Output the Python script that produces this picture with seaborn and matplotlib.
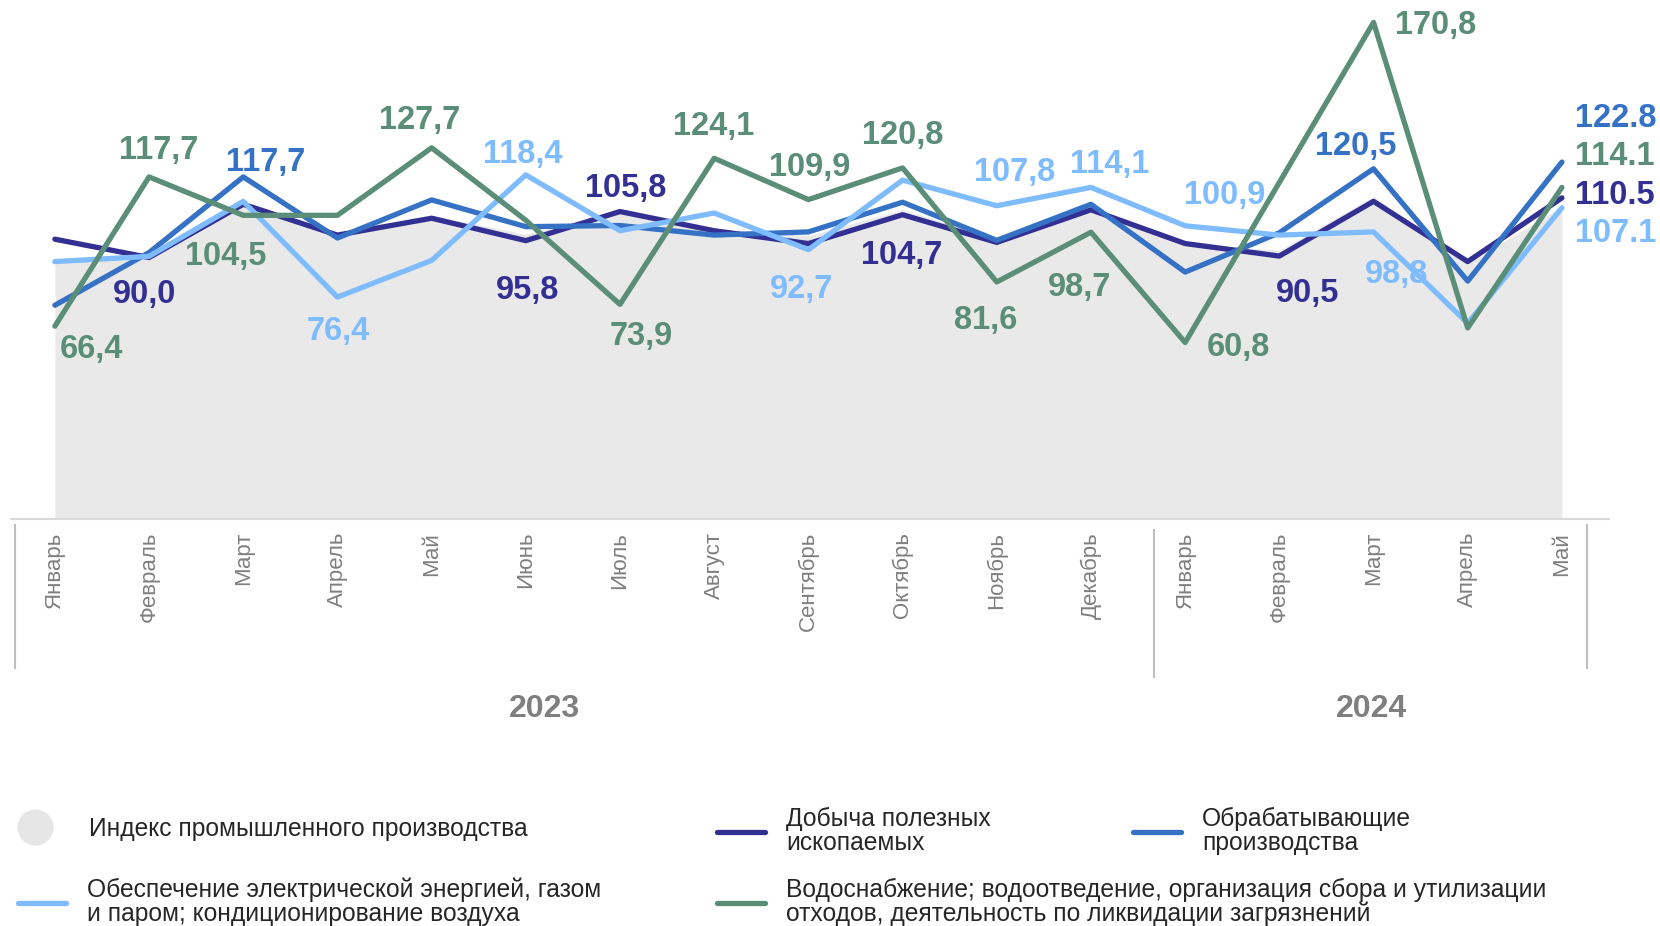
import matplotlib
matplotlib.use("Agg")
import matplotlib.pyplot as plt
import seaborn as sns
import pandas as pd
from matplotlib.lines import Line2D

# ---------------- data ----------------
months = ["Январь", "Февраль", "Март", "Апрель", "Май", "Июнь", "Июль", "Август",
          "Сентябрь", "Октябрь", "Ноябрь", "Декабрь",
          "Январь", "Февраль", "Март", "Апрель", "Май"]
years = ["2023", "2024"]

index_ipp = [88.3, 90.0, 109.0, 98.4, 104.5, 98.0, 106.0, 100.0, 97.5, 106.5,
             96.5, 107.5, 95.0, 92.5, 111.0, 88.0, 107.5]
mining = [96.3, 90.0, 108.3, 97.7, 103.5, 95.8, 105.8, 99.2, 94.8, 104.7,
          95.2, 106.4, 94.8, 90.5, 109.3, 88.6, 110.5]
manufacturing = [73.6, 91.7, 117.7, 96.7, 109.8, 100.6, 101.0, 97.7, 98.8, 109.0,
                 95.9, 108.3, 85.0, 98.5, 120.5, 81.9, 122.8]
energy = [88.6, 90.4, 109.3, 76.4, 89.0, 118.4, 99.2, 105.3, 92.7, 116.6,
          107.8, 114.1, 100.9, 97.7, 98.8, 67.4, 107.1]
water = [66.4, 117.7, 104.5, 104.5, 127.7, 102.8, 73.9, 124.1, 109.9, 120.8,
         81.6, 98.7, 60.8, 115.8, 170.8, 65.8, 114.1]

series_names = ["Добыча полезных\nископаемых",
                "Обрабатывающие\nпроизводства",
                "Обеспечение электрической энергией, газом\nи паром; кондиционирование воздуха",
                "Водоснабжение; водоотведение, организация сбора и утилизации\nотходов, деятельность по ликвидации загрязнений"]
index_name = "Индекс промышленного производства"

# ---------------- styles ----------------
colors = ["#332F93", "#3572C6", "#7EBCFF", "#5A8E78"]
fill_color = "#E9E9E9"

# label offsets in pixels (dx, dy, ha) for labelled points of each series
label_style = [
    {1: (-4, -34), 5: (2, -47), 6: (6, 26), 9: (-1, -38), 13: (28, -34), 16: (13, 5, "left")},
    {2: (22, 17), 14: (-18, 25), 16: (13, 47, "left")},
    {3: (1, -31), 5: (-3, 23), 8: (-7, -37), 10: (18, 36), 11: (19, 26), 12: (40, 33),
     14: (23, -40), 16: (13, -23, "left")},
    {0: (37, -20), 1: (10, 29), 2: (-18, -38), 4: (-12, 30), 6: (21, -29), 7: (-1, 35),
     8: (1, 35), 9: (0, 35), 10: (-11, -36), 11: (-11, -52), 12: (53, -2), 14: (62, 0),
     16: (13, 34, "left")},
]
label_shift = -3  # vertical correction for glyph centring

sns.set_theme(style="white")
plt.rcParams["font.family"] = ["Liberation Sans", "DejaVu Sans"]

fig = plt.figure(figsize=(16.6, 9.26), dpi=100)
W, H = 1660, 926
ax_left, ax_right = 10.6, 1609
ax = fig.add_axes([ax_left / W, 1 - 519.4 / H, (ax_right - ax_left) / W, 519.4 / H])

x = list(range(len(months)))
values = [mining, manufacturing, energy, water]
df = pd.DataFrame({
    "pos": x * 4,
    "value": sum(values, []),
    "series": sum([[n] * len(x) for n in series_names], []),
})

ax.fill_between(x, index_ipp, 0, color=fill_color, lw=0, zorder=1)
sns.lineplot(data=df, x="pos", y="value", hue="series", hue_order=series_names,
             palette=colors, lw=3.8, legend=False, ax=ax, zorder=3)

ax.set_xlim(-0.47, 16.5)
ax.set_ylim(0, 178.5)

# data labels
for vals, col, style in zip(values, colors, label_style):
    for i, st in style.items():
        v = vals[i]
        txt = f"{v:.1f}" if i == len(x) - 1 else f"{v:.1f}".replace(".", ",")
        ha = st[2] if len(st) > 2 else "center"
        ax.annotate(txt, (i, v), xytext=(st[0], st[1] + label_shift),
                    textcoords="offset pixels",
                    ha=ha, va="center", fontsize=23.5, fontweight="bold", color=col,
                    annotation_clip=False, zorder=5)

# axes styling
ax.set_xticks(x)
ax.set_xticklabels(months, rotation=90, color="#7F7F7F", fontsize=16)
ax.tick_params(axis="x", length=0, pad=9)
ax.set_yticks([])
ax.set_xlabel("")
ax.set_ylabel("")
for s in ["left", "top", "right"]:
    ax.spines[s].set_visible(False)
ax.spines["bottom"].set_color("#D9D9D9")
ax.spines["bottom"].set_linewidth(1.5)

# year group separators and year labels
ax.vlines([-0.42, 16.27], -1.6, -51.4, color="#BFBFBF", lw=1.5, clip_on=False)
ax.vlines([11.67], -3.3, -54.5, color="#BFBFBF", lw=1.5, clip_on=False)
for xp, yr in zip([5.2, 13.98], years):
    ax.text(xp, -65.2, yr, ha="center", va="center", fontsize=23, fontweight="bold",
            color="#7F7F7F")

# legend entries
def add_leg(handle, label, xl, yc, tp):
    lg = fig.legend(handles=[handle], labels=[label], loc="center left",
                    bbox_to_anchor=(xl / W, 1 - yc / H), frameon=False,
                    borderpad=0, borderaxespad=0, handlelength=1.95,
                    handletextpad=tp, fontsize=17.7, labelcolor="#262626")
    for t in lg.get_texts():
        t.set_linespacing(1.0)
    return lg

add_leg(Line2D([], [], marker="o", ls="", ms=25, color="#E6E6E6"), index_name, 11, 829, 1.22)
add_leg(Line2D([], [], color=colors[0], lw=3.8), series_names[0], 717, 831, 0.85)
add_leg(Line2D([], [], color=colors[1], lw=3.8), series_names[1], 1133, 831, 0.85)
add_leg(Line2D([], [], color=colors[2], lw=3.8), series_names[2], 18, 902, 0.85)
add_leg(Line2D([], [], color=colors[3], lw=3.8), series_names[3], 717, 902, 0.85)

fig.savefig("out.png", dpi=100, facecolor="white")
